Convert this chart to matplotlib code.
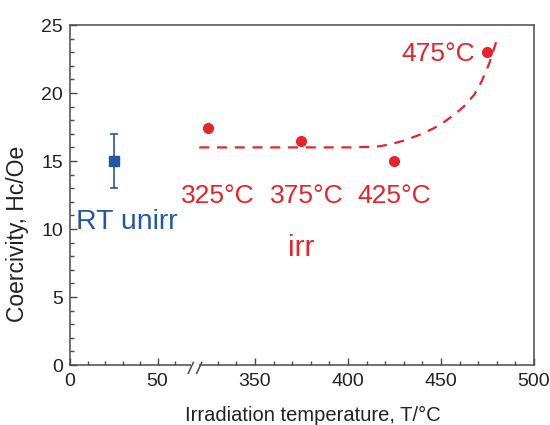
import numpy as np
import matplotlib
matplotlib.use("Agg")
import matplotlib.pyplot as plt
from matplotlib.ticker import FixedLocator, FixedFormatter

plt.rcParams['font.family'] = ['Liberation Sans', 'DejaVu Sans']

# ---- data ----
unirr_T = [25]
unirr_Hc = [15.0]
unirr_err = [2.0]

irr_T = [325, 375, 425, 475]
irr_Hc = [17.45, 16.5, 15.0, 23.0]
irr_labels = ["325°C", "375°C", "425°C", "475°C"]

# dashed guide curve
curve_T = [320, 340, 360, 380, 400, 415, 422, 430, 438, 446, 452, 458, 463, 468, 472, 476, 480]
curve_Hc = [16.0, 16.0, 16.0, 16.0, 16.0, 16.05, 16.2, 16.5, 16.9, 17.4, 17.9, 18.5, 19.1, 19.9, 20.9, 22.2, 23.9]

xmajor = [0, 50, 350, 400, 450, 500]
xminor = [10, 20, 30, 40, 60, 330, 340, 360, 370, 380, 390, 410, 420, 430, 440, 460, 470, 480, 490]
ymajor = [0, 5, 10, 15, 20, 25]

RED = '#E8232B'
BLUE = '#2456A6'
AX = '#4a4a4a'

# broken x axis as a piecewise-linear scale
_xs = [-1000, 0, 70, 318.28, 1000]
_us = [-1750, 0, 122.5, 126.0, 185 + 1.86 * 650]
def fwd(x):
    return np.interp(x, _xs, _us)
def inv(u):
    return np.interp(u, _us, _xs)

fig = plt.figure(figsize=(5.5, 4.25), dpi=100)
ax = fig.add_axes([70/550, 60/425, 464/550, 340/425])
ax.set_xscale('function', functions=(fwd, inv))
ax.set_xlim(0, 500)
ax.set_ylim(0, 25)

ax.errorbar(unirr_T, unirr_Hc, yerr=unirr_err, fmt='s', color=BLUE, ms=7,
            elinewidth=1.2, capsize=3, capthick=1.2, zorder=3)
ax.plot(irr_T, irr_Hc, 'o', color=RED, ms=7, zorder=3)
ax.plot(curve_T, curve_Hc, '--', color=RED, lw=1.6, dashes=(4.5, 3.5), zorder=2)

# annotations
ann_pos = [(329.8, 12.4), (377.8, 12.4), (424.7, 12.4), (448.5, 22.9)]
for (tx, ty), s in zip(ann_pos, irr_labels):
    ax.text(tx, ty, s, color=RED, fontsize=19, ha='center', va='center')
ax.text(375.1, 8.6, "irr", color=RED, fontsize=21.5, ha='center', va='center')
ax.text(32.3, 10.5, "RT unirr", color=BLUE, fontsize=20.5, ha='center', va='center')

# ticks
ax.xaxis.set_major_locator(FixedLocator(xmajor))
ax.xaxis.set_major_formatter(FixedFormatter([str(v) for v in xmajor]))
ax.xaxis.set_minor_locator(FixedLocator(xminor))
ax.yaxis.set_major_locator(FixedLocator(ymajor))
ax.yaxis.set_minor_locator(FixedLocator(list(range(0, 26))))
ax.tick_params(which='both', direction='in', top=False, right=False, color=AX)
ax.tick_params(which='major', length=5, width=1, labelsize=14, labelcolor='#222222')
ax.tick_params(which='minor', length=3, width=1)
ax.tick_params(axis='x', which='major', pad=6)
ax.tick_params(axis='y', which='major', pad=5)
for sp in ax.spines.values():
    sp.set_color(AX)
    sp.set_linewidth(1.1)

# break marks on the bottom axis
ax.add_patch(plt.Rectangle((121.5/464, -3/340), 7.5/464, 6/340, transform=ax.transAxes,
                           facecolor='white', edgecolor='none', clip_on=False, zorder=5))
for x0 in (118.3, 126.7):
    ax.plot([x0/464, (x0+5)/464], [-8.3/340, 2.5/340], transform=ax.transAxes,
            color=AX, lw=1.1, clip_on=False, zorder=6)

fig.text(313/550, 1-415/425, "Irradiation temperature, T/°C", fontsize=14.5,
         ha='center', va='center', color='#222222')
fig.text(18/550, 1-233.5/425, "Coercivity, Hc/Oe", fontsize=16.5, rotation=90,
         ha='center', va='center', color='#222222')

fig.savefig("out.png", dpi=100)
